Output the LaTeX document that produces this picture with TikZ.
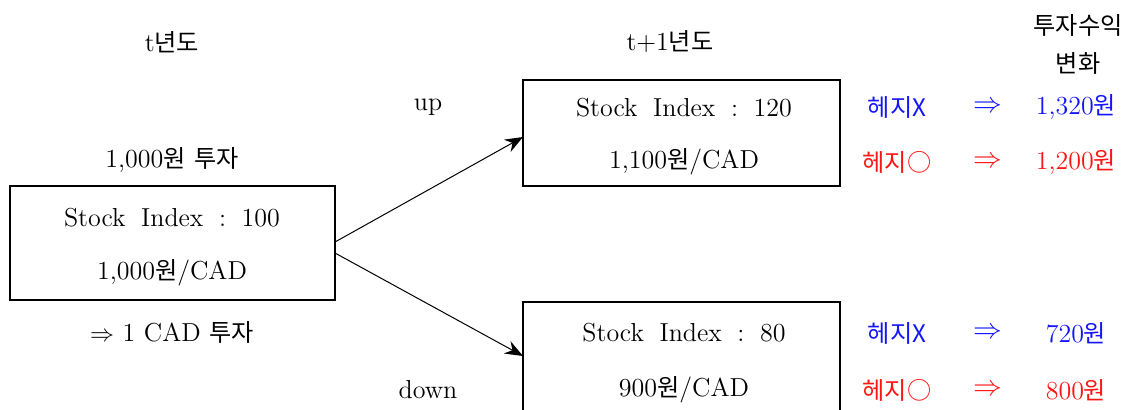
\documentclass[tikz,border=0pt]{standalone}
\usepackage{fontspec}
\usepackage{tikz}
\usetikzlibrary{arrows.meta,positioning}
\newfontfamily\krfont{Noto Sans CJK KR}[Scale=0.93]
\newcommand{\kr}[1]{{\krfont #1}}
\newcommand{\wsp}{\hspace{0.6em}}
\definecolor{hedgeblue}{RGB}{20,20,255}
\definecolor{hedgered}{RGB}{255,20,20}

\begin{document}
\begin{tikzpicture}[x=0.5pt, y=-0.5pt,
    box/.style={draw, line width=0.6pt, inner sep=0pt, outer sep=0pt},
    txt/.style={font=\fontsize{13}{15}\selectfont, inner sep=0pt},
    imp/.style={font=\fontsize{15}{15}\selectfont, inner sep=0pt},
    arrow/.style={-{Stealth[length=9pt, width=7pt, inset=3pt]}, line width=0.5pt}
]
\useasboundingbox (0,0) rectangle (1125,409);

% Headers
\node[txt] (hnow) at (172, 42) {t\kr{년도}};
\node[txt] (hnext) at (670, 42) {t+1\kr{년도}};
\node[txt] (hret1) at (1078, 25) {\kr{투자수익}};
\node[txt] (hret2) at (1078, 63) {\kr{변화}};

% Year t
\node[txt] (invest) at (172, 160) {1,000\kr{원} \kr{투자}};
\node[box, minimum width=162.5pt, minimum height=57pt] (now) at (172.5, 243) {};
\node[txt] (nowidx) at (172, 218) {Stock\wsp Index\wsp :\wsp 100};
\node[txt] (nowfx) at (172, 273) {1,000\kr{원}/CAD};
\node[txt] (cad) at (172, 332) {$\Rightarrow$ 1 CAD \kr{투자}};

% Year t+1, up
\node[box, minimum width=158.5pt, minimum height=53pt] (upbox) at (681.5, 133) {};
\node[txt] (upidx) at (684, 108) {Stock\wsp Index\wsp :\wsp 120};
\node[txt] (upfx) at (684, 162) {1,100\kr{원}/CAD};
\node[txt] (uplbl) at (428, 107) {up};

% Year t+1, down
\node[box, minimum width=158.5pt, minimum height=55pt] (downbox) at (681.5, 357) {};
\node[txt] (downidx) at (684, 333) {Stock\wsp Index\wsp :\wsp 80};
\node[txt] (downfx) at (684, 390) {900\kr{원}/CAD};
\node[txt] (downlbl) at (428, 390) {down};

% Arrows
\draw[arrow] ([yshift=0.5pt]now.east) -- ([yshift=-2pt]upbox.west);
\draw[arrow] ([yshift=-5pt]now.east) -- ([yshift=0.5pt]downbox.west);

% Returns
\node[txt, hedgeblue] (upnoh) at (897, 107) {\kr{헤지X}};
\node[imp, hedgeblue] (upnoharr) at (988, 107) {$\Rightarrow$};
\node[txt, hedgeblue] (upnohval) at (1076, 107) {1,320\kr{원}};
\node[txt, hedgered] (uph) at (897, 162) {\kr{헤지○}};
\node[imp, hedgered] (upharr) at (988, 162) {$\Rightarrow$};
\node[txt, hedgered] (uphval) at (1076, 162) {1,200\kr{원}};

\node[txt, hedgeblue] (downnoh) at (897, 333) {\kr{헤지X}};
\node[imp, hedgeblue] (downnoharr) at (988, 333) {$\Rightarrow$};
\node[txt, hedgeblue] (downnohval) at (1076, 333) {720\kr{원}};
\node[txt, hedgered] (downh) at (897, 390) {\kr{헤지○}};
\node[imp, hedgered] (downharr) at (988, 390) {$\Rightarrow$};
\node[txt, hedgered] (downhval) at (1076, 390) {800\kr{원}};

\end{tikzpicture}
\end{document}
